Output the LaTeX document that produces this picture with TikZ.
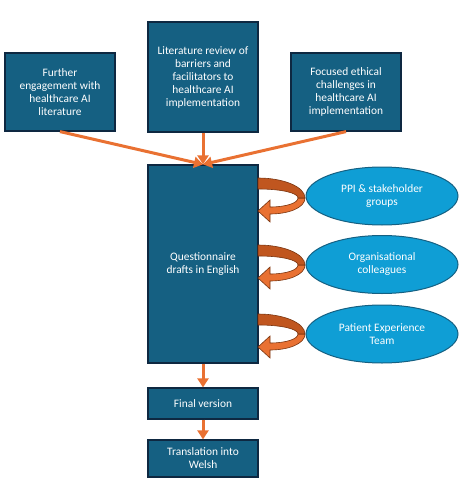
\documentclass[tikz,border=0pt]{standalone}
\usepackage{fontspec}
\setmainfont{Carlito}
\usetikzlibrary{positioning, shapes.geometric, arrows.meta}

\definecolor{boxblue}{HTML}{156082}
\definecolor{boxline}{HTML}{0E2841}
\definecolor{ovalblue}{HTML}{0F9ED5}
\definecolor{arrorange}{HTML}{E97132}
\definecolor{arrdark}{HTML}{C0561F}
\definecolor{arrline}{HTML}{7A3510}

\begin{document}
\begin{tikzpicture}[x=1pt, y=-1pt,
		StepBox/.style={rectangle, draw=boxline, fill=boxblue, line width=1.2pt, text=white, align=center, minimum width=110pt, inner sep=2pt, font=\fontsize{11.4}{13}\selectfont},
		GroupOval/.style={ellipse, draw=boxblue, fill=ovalblue, line width=1pt, text=white, align=center, minimum width=152pt, minimum height=58pt, inner sep=0pt, font=\fontsize{11.4}{13}\selectfont},
		Flow/.style={draw=arrorange, line width=3pt, -{Triangle[width=11pt,length=9pt]}},
		feedback/.pic={
			% lower band with the head
			\filldraw[fill=arrorange, draw=arrline, line width=0.6pt]
				(47,20) .. controls (47,30) and (30,36) .. (12,36) -- (12,44) -- (0,33) -- (12,22) -- (12,29)
				.. controls (28,29) and (40,25) .. (40,20) -- cycle;
			% upper band
			\filldraw[fill=arrdark, draw=arrline, line width=0.6pt]
				(0,0) .. controls (26,0) and (47,9) .. (47,20) -- (40,20)
				.. controls (40,15) and (24,11) .. (0,11) -- cycle;
		}]

	\useasboundingbox (0,0) rectangle (466,500);

	% sources
	\node[StepBox, minimum height=78pt] (Further) at (60,92) {Further\\engagement with\\healthcare AI\\literature};
	\node[StepBox, minimum height=110pt] (Review) at (203,77) {Literature review of\\barriers and\\facilitators to\\healthcare AI\\implementation};
	\node[StepBox, minimum height=78pt] (Ethics) at (346,92) {Focused ethical\\challenges in\\healthcare AI\\implementation};

	% drafts
	\node[StepBox, minimum height=198pt] (Drafts) at (203,264) {Questionnaire\\drafts in English};
	\node[StepBox, minimum height=31pt] (Final) at (203,403.5) {Final version};
	\node[StepBox, minimum height=37pt] (Welsh) at (203,458.5) {Translation into\\Welsh};

	\draw[Flow] (Further.south) -- (Drafts.north);
	\draw[Flow] (Review.south) -- (Drafts.north);
	\draw[Flow] (Ethics.south) -- (Drafts.north);
	\draw[Flow] (Drafts.south) -- (Final.north);
	\draw[Flow] (Final.south) -- (Welsh.north);

	% feedback loops
	\pic at (258,178) {feedback};
	\pic at (258,245) {feedback};
	\pic at (258,314) {feedback};

	\node[GroupOval] (PPI) at (382,196) {PPI \& stakeholder\\groups};
	\node[GroupOval] (Colleagues) at (382,264.5) {Organisational\\colleagues};
	\node[GroupOval] (Patient) at (382,334) {Patient Experience\\Team};
\end{tikzpicture}
\end{document}
